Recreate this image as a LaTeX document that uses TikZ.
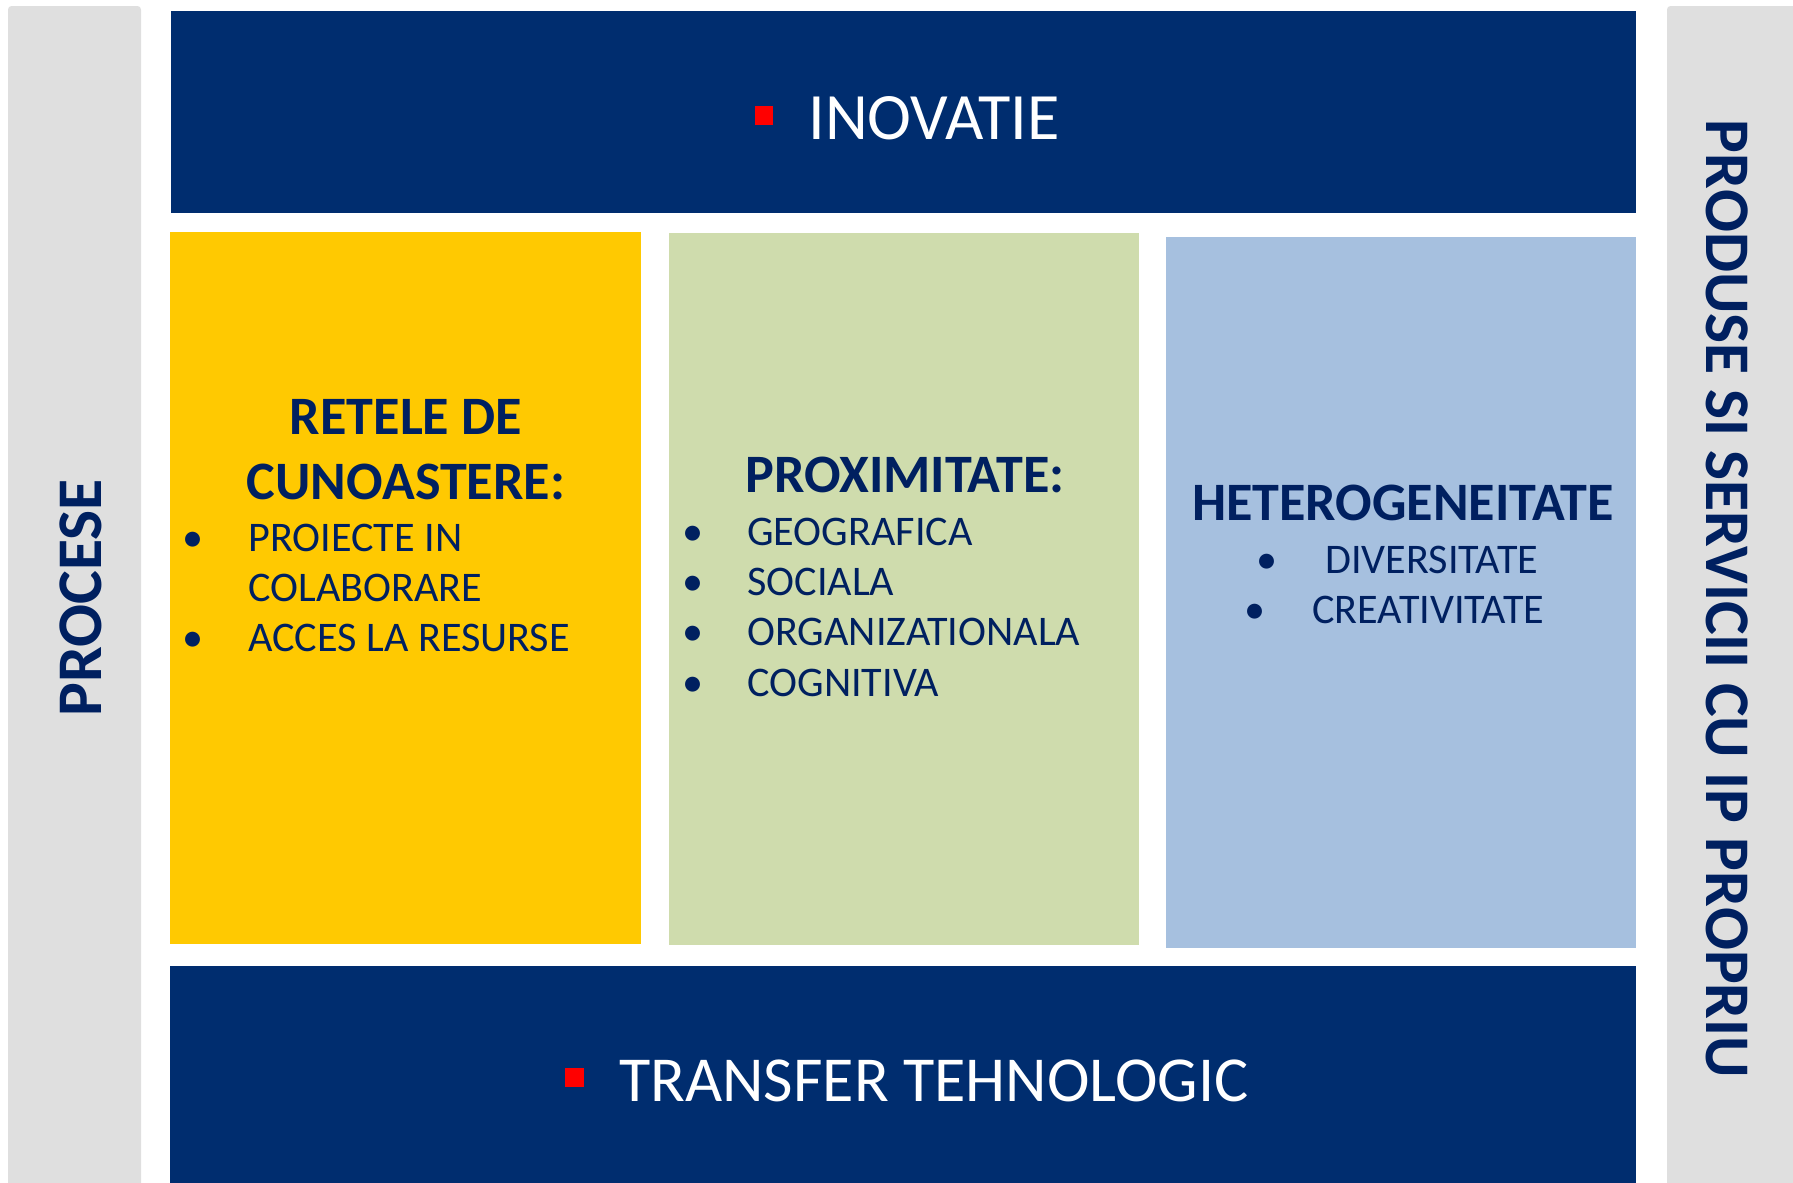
\documentclass[tikz,border=0pt]{standalone}
\usepackage{fontspec}
\setmainfont{Carlito}
\usetikzlibrary{fit}
\definecolor{navy}{HTML}{002D6F}
\definecolor{darktext}{HTML}{002060}
\definecolor{gold}{HTML}{FFC901}
\definecolor{olive}{HTML}{CFDCAD}
\definecolor{skyb}{HTML}{A6C0DF}
\definecolor{greyb}{HTML}{DFDFDF}
\definecolor{redsq}{HTML}{FF0000}
\tikzset{
  panel/.style={inner sep=0pt, draw=none},
  bigtxt/.style={inner sep=0pt, text=white, font=\fontsize{36.5}{43}\selectfont},
  sidetxt/.style={inner sep=0pt, text=darktext, font=\bfseries\fontsize{36.2}{43}\selectfont},
  ttl/.style={inner sep=0pt, text=darktext, font=\bfseries\fontsize{30.8}{36}\selectfont},
  itm/.style={inner sep=0pt, text=darktext, font=\fontsize{24}{29}\selectfont, anchor=west},
  bul/.style={inner sep=0pt, text=darktext, font=\fontsize{24}{29}\selectfont, anchor=base},
  redmark/.style={inner sep=0pt, fill=redsq}
}
\begin{document}
\begin{tikzpicture}[x=0.02cm,y=-0.02cm]
\useasboundingbox (0,0) rectangle (1793,1183);
% side panels
\node[panel, fill=greyb, rounded corners=2pt, fit={(8,6)(141,1190)}] (left) {};
\node[panel, fill=greyb, rounded corners=2pt, fit={(1667,6)(1800,1190)}] (right) {};
% top and bottom bars
\node[panel, fill=navy, fit={(171,11)(1636,213)}] (top) {};
\node[panel, fill=navy, fit={(170,966)(1636,1190)}] (bottom) {};
% three middle boxes
\node[panel, fill=gold, fit={(170,232)(641,944)}] (yel) {};
\node[panel, fill=olive, fit={(669,233)(1139,945)}] (grn) {};
\node[panel, fill=skyb, fit={(1166,237)(1636,948)}] (blu) {};
% top text
\node[redmark, fit={(755,106)(773,125)}] (m1) {};
\node[bigtxt, anchor=west, font=\fontsize{37.7}{43}\selectfont] (inov) at (808,118) {INOVATIE};
% bottom text
\node[redmark, fit={(565,1068)(584,1087)}] (m2) {};
\node[bigtxt, anchor=west] (tt) at (619,1081) {TRANSFER TEHNOLOGIC};
% side texts
\node[sidetxt, rotate=90] (proc) at (81,598) {PROCESE};
\node[sidetxt, rotate=-90] (prod) at (1727,599) {PRODUSE SI SERVICII CU IP PROPRIU};
% yellow box
\node[ttl] (y1) at (406,417) {RETELE DE};
\node[ttl] (y2) at (406,482) {CUNOASTERE:};
\node[itm] (ya) at (248,538) {PROIECTE IN};
\node[itm] (yb) at (248,588) {COLABORARE};
\node[itm] (yc) at (248,638) {ACCES LA RESURSE};
\node[bul] at (ya.base -| 193,0) {•};
\node[bul] at (yc.base -| 193,0) {•};
% green box
\node[ttl] (g0) at (905,475) {PROXIMITATE:};
\node[itm] (ga) at (747,532) {GEOGRAFICA};
\node[itm] (gb) at (747,582) {SOCIALA};
\node[itm] (gc) at (747,632) {ORGANIZATIONALA};
\node[itm] (gd) at (747,683) {COGNITIVA};
\node[bul] at (ga.base -| 693,0) {•};
\node[bul] at (gb.base -| 693,0) {•};
\node[bul] at (gc.base -| 693,0) {•};
\node[bul] at (gd.base -| 693,0) {•};
% blue box
\node[ttl] (b0) at (1403,503) {HETEROGENEITATE};
\node[itm] (ba) at (1325,560) {DIVERSITATE};
\node[itm] (bb) at (1312,610) {CREATIVITATE};
\node[bul] at (ba.base -| 1267,0) {•};
\node[bul] at (bb.base -| 1255,0) {•};
\end{tikzpicture}
\end{document}
